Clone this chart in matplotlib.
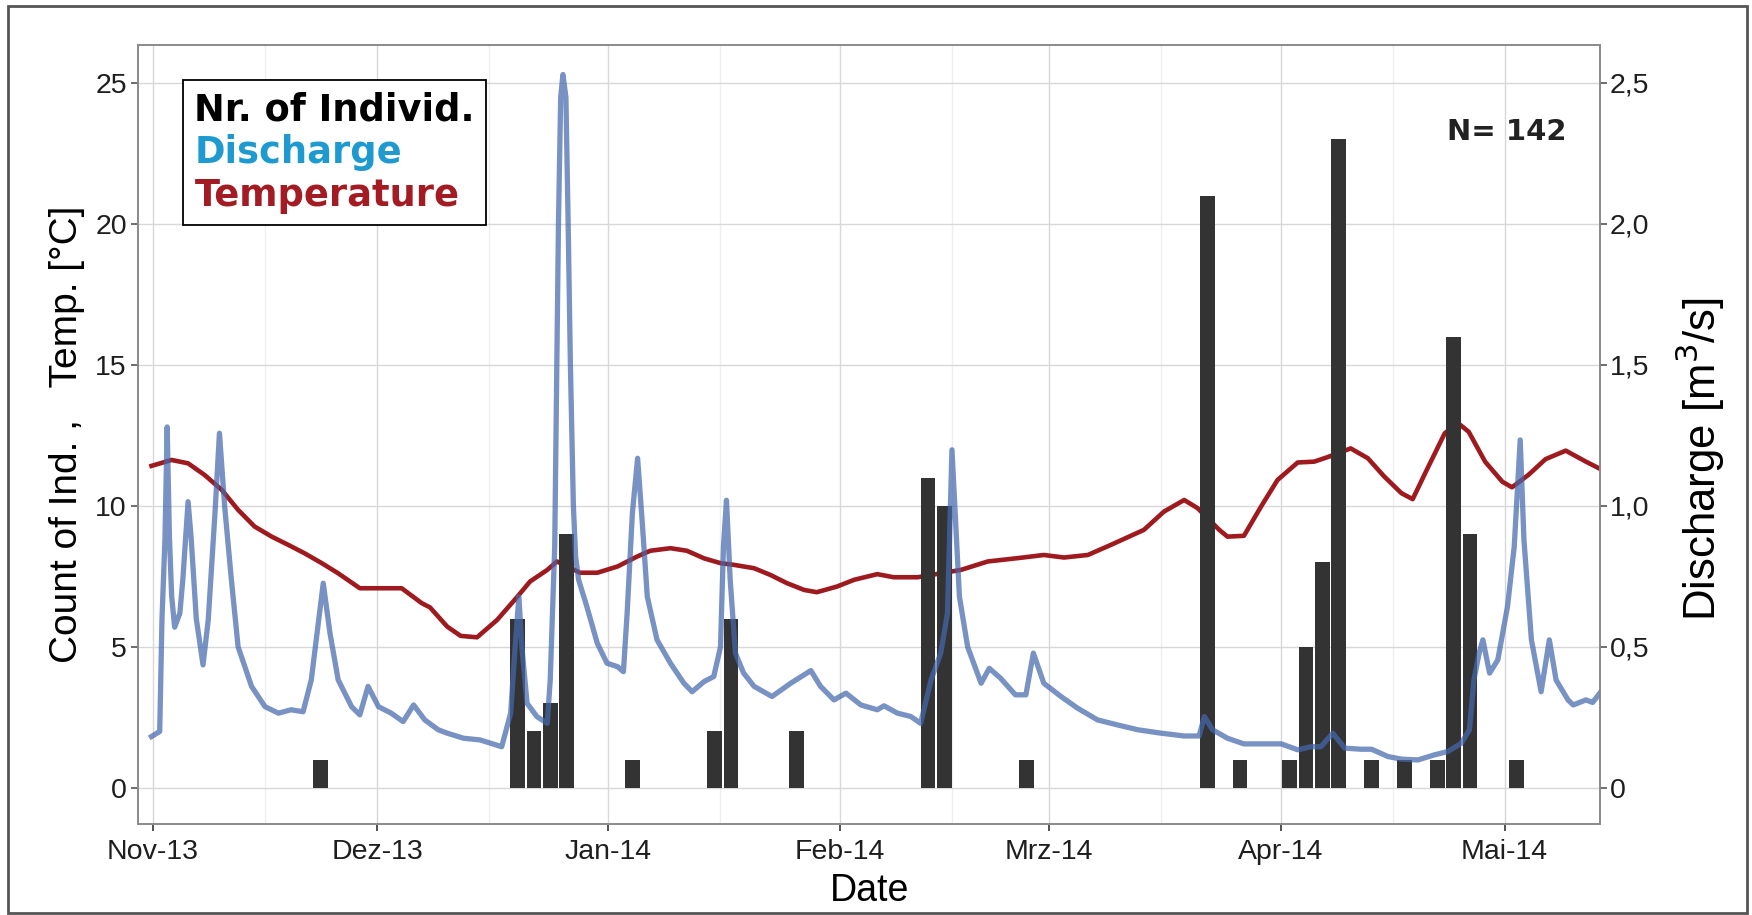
import matplotlib
matplotlib.use("Agg")
import matplotlib.pyplot as plt
import matplotlib.dates as mdates
import numpy as np
import pandas as pd
from matplotlib.patches import Rectangle

# --- data (x = days after 2013-11-01) ---
start = "2013-11-01"

bar_days = [22.4, 48.8, 51.0, 53.2, 55.4, 64.2, 75.2, 77.4, 86.2, 103.8, 106.0, 117.0,
            141.2, 145.6, 152.2, 154.4, 156.6, 158.8, 163.2, 167.6, 172.0, 174.2, 176.4, 182.6]
bar_counts = [1, 6, 2, 3, 9, 1, 2, 6, 2, 11, 10, 1,
              21, 1, 1, 5, 8, 23, 1, 1, 1, 16, 9, 1]

t_days = [-0.2, 2.5, 4.7, 6.9, 9.2, 11.4, 13.6, 15.9, 18.1, 20.3, 22.6, 24.8, 27.7, 33.3,
          36.0, 37.1, 39.4, 41.2, 43.4, 46.1, 48.8, 50.5, 52.8, 54.1, 57.2, 59.5, 62.2, 64.8,
          66.6, 69.3, 71.5, 73.8, 76.0, 77.8, 80.5, 82.7, 84.9, 87.2, 88.9, 91.6, 93.9, 97.0,
          99.2, 102.4, 108.2, 111.8, 116.2, 119.3, 122.0, 125.2, 128.3, 132.7, 135.4, 138.1,
          139.9, 142.8, 143.9, 146.1, 148.4, 150.6, 153.3, 155.5, 157.3, 160.4, 162.7, 164.9,
          167.2, 168.7, 170.7, 173.0, 174.8, 176.2, 178.4, 180.7, 182.0, 184.2, 186.5, 189.2,
          191.9, 193.9]
t_vals = [11.42, 11.63, 11.51, 11.10, 10.57, 9.86, 9.27, 8.91, 8.62, 8.32, 7.97, 7.61, 7.08, 7.08,
          6.55, 6.40, 5.72, 5.39, 5.34, 5.96, 6.78, 7.32, 7.73, 8.03, 7.63, 7.63, 7.85, 8.20,
          8.41, 8.50, 8.41, 8.14, 7.97, 7.91, 7.79, 7.55, 7.26, 7.02, 6.94, 7.14, 7.38, 7.58,
          7.47, 7.47, 7.73, 8.03, 8.16, 8.26, 8.17, 8.26, 8.62, 9.15, 9.80, 10.21,
          9.92, 9.15, 8.91, 8.94, 9.98, 10.92, 11.54, 11.57, 11.73, 12.04, 11.69, 11.04,
          10.45, 10.24, 11.34, 12.58, 12.93, 12.63, 11.57, 10.86, 10.66, 11.10, 11.66, 11.96,
          11.57, 11.30]

q_days = [-0.2, 0.9, 1.0, 1.2, 1.6, 1.9, 2.2, 2.5, 2.9, 3.6, 4.0, 4.7, 5.1, 5.8, 6.7, 7.4, 8.3,
          8.9, 9.6, 10.5, 11.4, 13.2, 15.0, 16.8, 18.5, 20.1, 21.2, 22.3, 22.8, 23.7, 24.8,
          26.6, 27.7, 28.8, 30.2, 31.9, 33.5, 34.9, 36.4, 38.2, 39.4, 41.6, 43.8, 46.7, 47.9,
          48.5, 49.0, 49.4, 50.1, 51.4, 52.8, 53.2, 53.8, 54.3, 54.6, 54.9, 55.3, 55.6, 55.9,
          56.3, 56.6, 57.0, 58.1, 59.5, 60.8, 62.2, 63.0, 63.5, 64.2, 64.9, 65.5, 66.2, 67.5,
          69.3, 71.1, 72.2, 73.8, 75.1, 76.0, 76.4, 76.8, 77.3, 78.0, 79.1, 80.5, 82.9, 85.4,
          88.1, 89.4, 91.2, 92.8, 94.8, 97.0, 97.9, 99.7, 101.5, 102.8, 104.2, 105.5, 106.4,
          107.0, 107.5, 108.0, 109.1, 110.9, 112.0, 113.5, 115.5, 116.9, 117.9, 119.3, 121.6,
          123.8, 126.5, 129.2, 131.9, 135.0, 138.1, 140.1, 140.8, 141.9, 143.9, 146.1, 148.8,
          151.1, 153.3, 155.1, 156.4, 158.0, 159.6, 161.8, 163.2, 165.4, 167.2, 169.4, 171.6,
          173.4, 175.2, 176.3, 176.9, 177.6, 178.1, 179.0, 180.1, 181.4, 182.3, 183.1, 183.6,
          184.6, 185.9, 187.0, 187.9, 189.5, 190.2, 191.9, 192.8, 193.9]
q_vals = [0.182, 0.20, 0.336, 0.596, 0.88, 1.28, 0.89, 0.68, 0.57, 0.62, 0.74, 1.015, 0.89, 0.60,
          0.436, 0.596, 0.974, 1.258, 0.998, 0.738, 0.50, 0.36, 0.288, 0.265, 0.277, 0.27, 0.383,
          0.62, 0.726, 0.549, 0.383, 0.288, 0.259, 0.36, 0.288, 0.265, 0.235, 0.294, 0.241, 0.206,
          0.194, 0.176, 0.17, 0.146, 0.265, 0.50, 0.678, 0.50, 0.30, 0.253, 0.229, 0.383, 0.856,
          2.0, 2.45, 2.53, 2.45, 2.0, 1.5, 1.0, 0.82, 0.738, 0.643, 0.513, 0.442, 0.43, 0.412,
          0.62, 0.974, 1.169, 0.95, 0.678, 0.525, 0.442, 0.371, 0.341, 0.377, 0.395, 0.50, 0.856,
          1.02, 0.738, 0.478, 0.407, 0.36, 0.324, 0.371, 0.416, 0.36, 0.312, 0.336, 0.294, 0.277,
          0.291, 0.265, 0.253, 0.229, 0.383, 0.478, 0.62, 1.199, 0.939, 0.678, 0.50, 0.371,
          0.424, 0.389, 0.33, 0.33, 0.478, 0.371, 0.324, 0.283, 0.241, 0.223, 0.206, 0.194,
          0.184, 0.184, 0.253, 0.206, 0.176, 0.156, 0.156, 0.156, 0.135, 0.146, 0.146, 0.194,
          0.141, 0.137, 0.137, 0.111, 0.102, 0.099, 0.117, 0.129, 0.158, 0.206, 0.383, 0.478,
          0.525, 0.407, 0.454, 0.643, 0.856, 1.234, 0.88, 0.525, 0.341, 0.525, 0.383, 0.312,
          0.294, 0.312, 0.303, 0.341]

month_ticks = ["2013-11-01", "2013-12-01", "2014-01-01", "2014-02-01",
               "2014-03-01", "2014-04-01", "2014-05-01"]
month_labels = ["Nov-13", "Dez-13", "Jan-14", "Feb-14", "Mrz-14", "Apr-14", "Mai-14"]
count_ticks = [0, 5, 10, 15, 20, 25]
q_ticks = [0, 0.5, 1.0, 1.5, 2.0, 2.5]
q_tick_labels = ["0", "0,5", "1,0", "1,5", "2,0", "2,5"]
legend_labels = ["Nr. of Individ.", "Discharge", "Temperature"]
n_text = "N= 142"


def to_dates(days):
    return pd.Timestamp(start) + pd.to_timedelta(np.asarray(days), unit="D")


def main():
    plt.rcParams["font.family"] = ["Liberation Sans", "DejaVu Sans"]
    fig = plt.figure(figsize=(17.52, 9.15), dpi=100)
    ax = fig.add_axes([0.0788, 0.0995, 0.8345, 0.8514])
    ax2 = ax.twinx()

    temp_line, = ax.plot(to_dates(t_days), t_vals, color="#9E1A1E", lw=3.3, zorder=2)
    bars = ax.bar(to_dates(bar_days), bar_counts, width=1.95, color="#333333", zorder=3)
    q_line, = ax2.plot(to_dates(q_days), q_vals, color="#4468AC", alpha=0.72, lw=3.8,
                       solid_joinstyle="round")

    lo, hi = -1.28, 26.35
    ax.set_ylim(lo, hi)
    ax2.set_ylim(lo / 10, hi / 10)
    ax.set_xlim(to_dates([-2.0])[0], to_dates([193.8])[0])

    ax.set_xticks(pd.to_datetime(month_ticks))
    ax.set_xticklabels(month_labels)
    ax.xaxis.set_minor_locator(mdates.DayLocator(bymonthday=16))
    ax.set_yticks(count_ticks)
    ax.set_yticklabels([str(v) for v in count_ticks])
    ax2.set_yticks(q_ticks)
    ax2.set_yticklabels(q_tick_labels)

    ax.grid(True, which="major", color="#D8D8D8", lw=1.0)
    ax.grid(True, which="minor", axis="x", color="#EFEFEF", lw=0.9)
    ax.set_axisbelow(True)

    for a in (ax, ax2):
        for s in a.spines.values():
            s.set_color("#8A8A8A")
            s.set_linewidth(1.2)
    ax.tick_params(axis="x", which="major", labelsize=20.5, length=5, width=1.2,
                   color="#333333", labelcolor="#1E1E1E", pad=6)
    ax.tick_params(axis="x", which="minor", length=0)
    ax.tick_params(axis="y", labelsize=20.5, length=5, width=1.2, color="#555555",
                   labelcolor="#1E1E1E", pad=3)
    ax2.tick_params(axis="y", labelsize=20.5, length=5, width=1.2, color="#555555",
                    labelcolor="#1E1E1E", pad=2)

    ax.set_xlabel("Date", fontsize=27)
    ax.xaxis.set_label_coords(0.5, -0.063)
    ax.set_ylabel("Count of Ind. ,   Temp. [°C]", fontsize=28)
    ax.yaxis.set_label_coords(-0.036, 0.5)
    ax2.set_ylabel("Discharge [m$^3$/s]", fontsize=31.5)
    ax2.yaxis.set_label_coords(1.050, 0.468)

    leg = ax2.legend([bars, q_line, temp_line], legend_labels, loc="upper left",
                     bbox_to_anchor=(0.031, 0.955), borderaxespad=0, handlelength=0,
                     handletextpad=0, labelcolor=["black", "#1E9AD0", "#A31C24"],
                     prop={"family": "DejaVu Sans", "weight": "bold", "size": 26.5},
                     fancybox=False, edgecolor="black", framealpha=1,
                     borderpad=0.3, labelspacing=0.16)
    leg.get_frame().set_linewidth(1.3)
    for h in leg.legend_handles:
        h.set_visible(False)

    ax2.text(0.977, 0.888, n_text, transform=ax2.transAxes, ha="right", va="center",
             fontsize=21, fontweight="bold", family="DejaVu Sans", color="#222222")

    fig.patches.append(Rectangle((0.0046, 0.002), 0.9926, 0.991, transform=fig.transFigure,
                                 fill=False, edgecolor="#555555", lw=2.0))

    fig.savefig("out.png", dpi=100)


if __name__ == "__main__":
    main()
